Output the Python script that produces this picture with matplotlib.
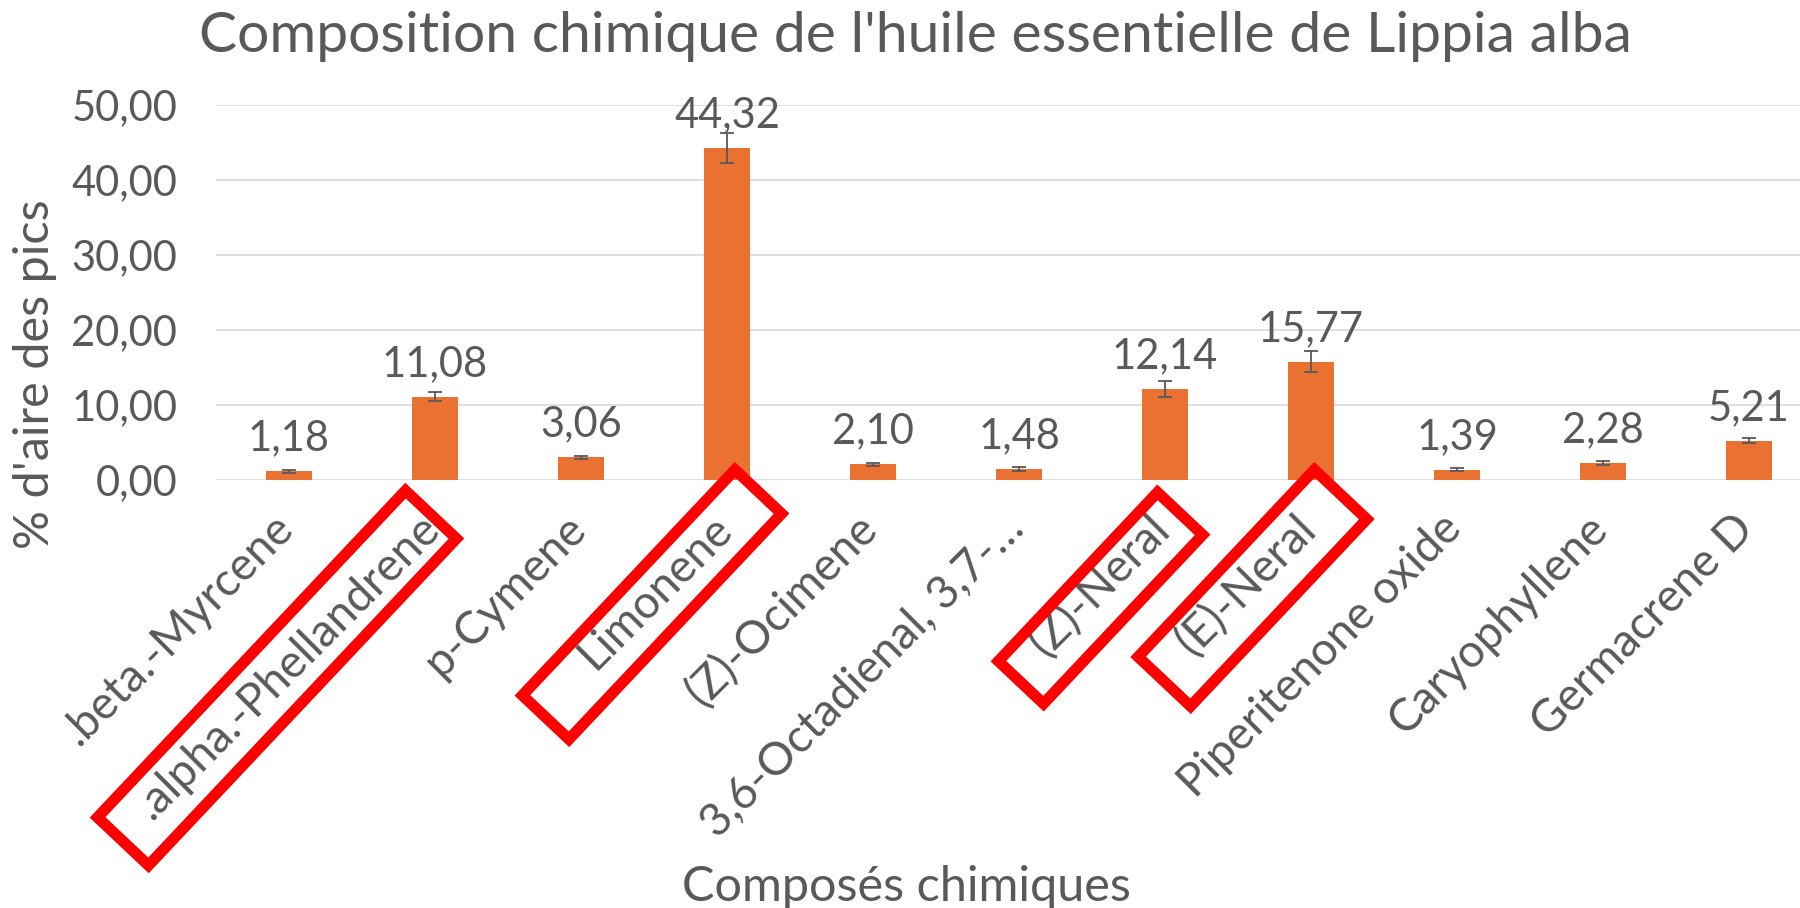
import matplotlib
matplotlib.use('Agg')
import matplotlib.pyplot as plt
from matplotlib.patches import Rectangle
from matplotlib.transforms import Affine2D, ScaledTranslation
import numpy as np

# ── Données ────────────────────────────────────────────────────────────────
composes = ['.beta.-Myrcene', '.alpha.-Phellandrene', 'p-Cymene', 'Limonene',
            '(Z)-Ocimene', '3,6-Octadienal, 3,7-…', '(Z)-Neral', '(E)-Neral',
            'Piperitenone oxide', 'Caryophyllene', 'Germacrene D']
aire = [1.18, 11.08, 3.06, 44.32, 2.10, 1.48, 12.14, 15.77, 1.39, 2.28, 5.21]
erreur = [0.2, 0.6, 0.2, 2.0, 0.18, 0.25, 1.1, 1.4, 0.22, 0.22, 0.33]
yticks = [0, 10, 20, 30, 40, 50]

# composés surlignés (cadres rouges)
surlignes = [1, 3, 6, 7]

GRIS = '#595959'
ORANGE = '#E97132'
FONT = ['Lato', 'DejaVu Sans']
plt.rcParams['font.family'] = FONT

DPI = 100
fig = plt.figure(figsize=(18, 9.08), dpi=DPI)
ax = fig.add_axes([216 / 1800, 1 - 480 / 908, 1606 / 1800, 375 / 908])

x = np.arange(len(composes))
ax.bar(x, aire, width=0.315, color=ORANGE, zorder=2)
ax.errorbar(x, aire, yerr=erreur, fmt='none', ecolor=GRIS, elinewidth=1.3,
            capsize=5, capthick=1.3, zorder=3)

for xi, v in zip(x, aire):
    ax.annotate(f'{v:.2f}'.replace('.', ','), (xi, v), xytext=(0, 15),
                textcoords='offset points', ha='center', va='baseline',
                fontsize=30, color=GRIS)

ax.set_xlim(-0.5, len(composes) - 0.5)
ax.set_ylim(0, 50)
ax.set_yticks(yticks)
ax.set_yticklabels([f'{t:.2f}'.replace('.', ',') for t in yticks])
ax.tick_params(axis='y', length=0, pad=28, labelsize=30, labelcolor=GRIS)
ax.grid(axis='y', color='#D9D9D9', lw=1.2, zorder=0)
for s in ax.spines.values():
    s.set_visible(False)

ax.set_xticks(x)
ax.set_xticklabels(composes, rotation=45, ha='right', va='center',
                   rotation_mode='anchor')
ax.tick_params(axis='x', length=0, pad=30, labelsize=33, labelcolor=GRIS)
decal = ScaledTranslation(-2 / DPI, 0, fig.dpi_scale_trans)
for lab in ax.get_xticklabels():
    lab.set_transform(lab.get_transform() + decal)

# cadres rouges autour des étiquettes (décalages en pixels depuis la barre)
cadre_dx = [-158, -75, -64.5, -58.5]
cadre_dy = [198, 124.5, 118, 108]
cadre_long = [449, 310, 232, 257]
cadre_larg = [70, 64, 62, 72]
for i, dx, dy, lg, lr in zip(surlignes, cadre_dx, cadre_dy,
                             cadre_long, cadre_larg):
    tr = (Affine2D().rotate_deg(46.7).translate(dx, -dy).scale(DPI / 100)
          + ScaledTranslation(x[i], 0, ax.transData))
    ax.add_patch(Rectangle((-lg / 2, -lr / 2), lg, lr, transform=tr,
                           fill=False, edgecolor='#FF0000', lw=8,
                           joinstyle='miter', clip_on=False, zorder=5))

fig.text(915 / 1800, 1 - 52 / 908, "Composition chimique de l'huile essentielle de Lippia alba",
         ha='center', va='baseline', fontsize=41, color=GRIS)
fig.text(35 / 1800, 1 - 374 / 908, "% d'aire des pics", rotation=90,
         ha='center', va='center', fontsize=35, color=GRIS)
fig.text(906 / 1800, 1 - 901 / 908, 'Composés chimiques',
         ha='center', va='baseline', fontsize=35, color=GRIS)

fig.savefig('out.png', dpi=DPI, facecolor='white')
